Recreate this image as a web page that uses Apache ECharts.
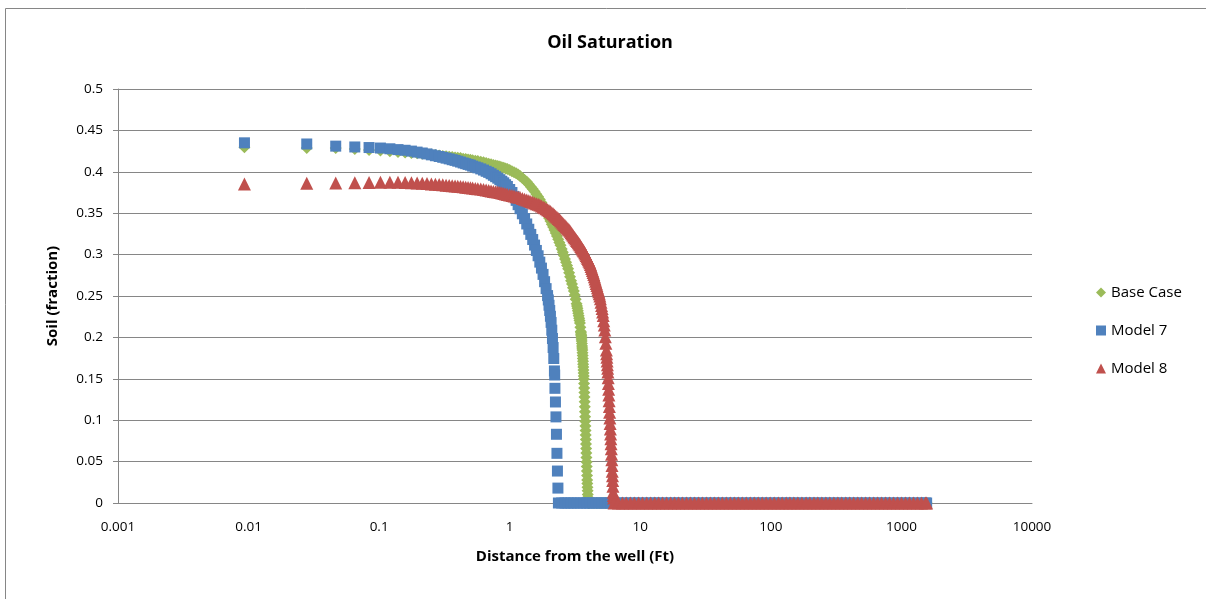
<!DOCTYPE html>
<html>
<head>
<meta charset="utf-8">
<script src="https://cdn.jsdelivr.net/npm/echarts@6/dist/echarts.min.js"></script>
<style>
html,body{margin:0;padding:0;background:#fff;}
#chart{width:1206px;height:599px;}
</style>
</head>
<body>
<div id="chart"></div>
<script>
// ---- data ----
const seriesNames = ['Base Case', 'Model 7', 'Model 8'];
const xTickLabels = ['0.001', '0.01', '0.1', '1', '10', '100', '1000', '10000'];
const yTickLabels = ['0', '0.05', '0.1', '0.15', '0.2', '0.25', '0.3', '0.35', '0.4', '0.45', '0.5'];

// Base Case: distance (ft) and oil saturation
const baseDist = [0.0093,0.0279,0.0465,0.0651,0.0837,
 0.1023,0.1209,0.1395,0.1581,0.1767,0.1953,0.2139,0.2325,0.2511,0.2697,0.2883,0.3069,0.3255,0.3441,0.3627,0.3813,0.3999,
 0.42,0.44,0.46,0.48,0.5,0.52,0.545,0.57,0.6,0.63,0.66,0.69,0.72,0.75,0.78,0.81,0.84,0.87,0.9,0.93,0.96,1.0,
 1.04,1.08,1.12,1.16,1.2,1.25,1.3,1.35,1.4,1.45,1.5,1.55,1.6,1.65,1.7,1.75,1.8,1.85,1.9,1.95,2.0,
 2.05,2.1,2.15,2.2,2.25,2.3,2.35,2.4,2.45,2.5,2.55,2.6,2.65,2.7,2.75,2.8,2.85,2.9,2.95,3.0,
 3.05,3.1,3.15,3.2,3.25,3.275,3.3,3.325,3.35,3.375,3.4,3.425,3.45,3.475,
 3.5,3.51,3.52,3.53,3.54,3.55,3.56,3.57,3.58,3.59,3.6,3.61,3.62,3.63,3.64,3.65,3.66,3.67,3.68,3.69,
 3.7,3.71,3.72,3.73,3.74,3.75,3.76,3.77,3.78,3.79,3.8,3.81,3.82,3.83,3.84,3.85,3.86,3.87,3.88,3.89,
 3.9,3.91,3.92,3.93,3.94,3.95,3.96,3.97,3.98,4.0];
const baseSat = [0.4296,0.4287,0.4287,0.4275,0.4263,
 0.4257,0.4248,0.4240,0.4234,0.4228,0.4223,0.4219,0.4213,0.4208,0.4203,0.4198,0.4192,0.4187,0.4182,0.4179,0.4174,0.4170,
 0.4166,0.4159,0.4155,0.4150,0.4145,0.4140,0.4134,0.4129,0.4122,0.4114,0.4106,0.4098,0.4091,0.4083,0.4077,0.4070,0.4064,0.4056,0.4048,0.4040,0.4033,0.4023,
 0.4008,0.3994,0.3981,0.3966,0.3950,0.3924,0.3901,0.3879,0.3849,0.3820,0.3793,0.3761,0.3728,0.3698,0.3664,0.3628,0.3594,0.3560,0.3526,0.3480,0.3442,
 0.3405,0.3367,0.3333,0.3298,0.3262,0.3225,0.3185,0.3146,0.3112,0.3069,0.3028,0.2989,0.2948,0.2907,0.2867,0.2829,0.2780,0.2732,0.2685,0.2645,
 0.2600,0.2560,0.2512,0.2462,0.2405,0.2378,0.2351,0.2322,0.2292,0.2262,0.2232,0.2203,0.2174,0.2123,
 0.2072,0.2056,0.2039,0.2022,0.2005,0.1982,0.1958,0.1927,0.1895,0.1872,0.1848,0.1814,0.1780,0.1746,0.1711,0.1677,0.1643,0.1607,0.1570,0.1534,
 0.1498,0.1444,0.1389,0.1335,0.1280,0.1222,0.1163,0.1103,0.1042,0.0986,0.0930,0.0876,0.0821,0.0767,0.0713,0.0659,0.0604,0.0550,0.0495,0.0441,
 0.0386,0.0332,0.0278,0.0235,0.0191,0.0148,0.0104,0.0067,0.0030,0];

// Model 7
const model7Dist = [0.0093,0.0279,0.0465,0.0651,0.0837,
 0.1023,0.1209,0.1395,0.1581,0.1767,0.1953,0.2139,0.2325,0.2511,0.2697,0.2883,0.3069,0.3255,0.3441,0.3627,0.3813,0.3999,
 0.42,0.44,0.46,0.48,0.5,0.52,0.545,0.57,0.6,0.63,0.66,0.69,0.72,0.75,0.78,0.81,0.84,0.87,0.9,0.93,0.96,1.0,
 1.04,1.08,1.12,1.16,1.2,1.25,1.3,1.35,1.4,1.45,1.5,1.55,1.6,1.65,1.7,1.75,1.8,1.85,1.9,1.95,
 1.975,2.0,2.025,2.05,2.075,2.1,2.125,2.15,2.175,2.2,2.21,
 2.22,2.24,2.26,2.28,2.30,2.32,2.34];
const model7Sat = [0.4350,0.4336,0.4310,0.4300,0.4293,
 0.4287,0.4278,0.4268,0.4260,0.4250,0.4238,0.4227,0.4216,0.4205,0.4194,0.4185,0.4175,0.4165,0.4156,0.4146,0.4138,0.4128,
 0.4118,0.4107,0.4098,0.4089,0.4081,0.4069,0.4058,0.4048,0.4035,0.4021,0.4006,0.3993,0.3976,0.3958,0.3941,0.3923,0.3905,0.3886,0.3867,0.3844,0.3823,0.3786,
 0.3750,0.3700,0.3655,0.3603,0.3554,0.3493,0.3435,0.3370,0.3306,0.3244,0.3182,0.3115,0.3050,0.2986,0.2909,0.2837,0.2761,0.2673,0.2589,0.2505,
 0.2452,0.2388,0.2325,0.2255,0.2181,0.2087,0.1987,0.1878,0.1745,0.1595,0.1546,
 0.1385,0.1220,0.1040,0.0830,0.0600,0.0386,0.0180];

// Model 8
const model8Dist = [0.0093,0.0279,0.0465,0.0651,0.0837,
 0.1023,0.1209,0.1395,0.1581,0.1767,0.1953,0.2139,0.2325,0.2511,0.2697,0.2883,0.3069,0.3255,0.3441,0.3627,0.3813,0.3999,
 0.42,0.44,0.46,0.48,0.5,0.52,0.545,0.57,0.6,0.63,0.66,0.69,0.72,0.75,0.78,0.81,0.84,0.87,0.9,0.93,0.96,1.0,
 1.04,1.08,1.12,1.16,1.2,1.25,1.3,1.35,1.4,1.45,1.5,1.55,1.6,1.65,1.7,1.75,1.8,1.85,1.9,1.95,2.0,
 2.05,2.1,2.15,2.2,2.25,2.3,2.35,2.4,2.45,2.5,2.55,2.6,2.65,2.7,2.75,2.8,2.85,2.9,2.95,3.0,
 3.05,3.1,3.15,3.2,3.25,3.3,3.35,3.4,3.45,3.5,3.55,3.6,3.65,3.7,3.75,3.8,3.85,3.9,3.95,4.0,
 4.05,4.1,4.15,4.2,4.25,4.3,4.35,4.4,4.45,4.5,4.55,4.6,4.65,4.7,4.75,4.8,4.85,4.9,4.95,5.0,
 5.05,5.1,5.15,5.2,5.25,5.3,5.35,5.4,5.45,5.5,5.525,5.55,5.575,5.6,5.625,5.65,5.675,5.7,5.725,5.75,
 5.775,5.8,5.825,5.85,5.875,5.9,5.925,5.95,5.975,6.0,6.025,6.05,6.075,6.1,6.125,6.15,6.175,6.2,6.225,6.25];
const model8Sat = [0.3853,0.3861,0.3865,0.3868,0.3871,
 0.3873,0.3873,0.3873,0.3871,0.3868,0.3866,0.3862,0.3859,0.3854,0.3850,0.3848,0.3843,0.3839,0.3836,0.3832,0.3829,0.3825,
 0.3821,0.3818,0.3814,0.3810,0.3807,0.3803,0.3799,0.3796,0.3791,0.3785,0.3779,0.3774,0.3768,0.3763,0.3759,0.3755,0.3750,0.3744,0.3738,0.3733,0.3727,0.3721,
 0.3714,0.3708,0.3700,0.3696,0.3690,0.3679,0.3668,0.3658,0.3650,0.3640,0.3632,0.3623,0.3615,0.3607,0.3599,0.3588,0.3576,0.3565,0.3554,0.3543,0.3533,
 0.3521,0.3506,0.3492,0.3478,0.3464,0.3450,0.3436,0.3423,0.3409,0.3394,0.3379,0.3365,0.3350,0.3337,0.3322,0.3309,0.3296,0.3281,0.3264,0.3250,
 0.3233,0.3217,0.3202,0.3187,0.3171,0.3158,0.3142,0.3129,0.3116,0.3099,0.3083,0.3068,0.3054,0.3039,0.3023,0.3007,0.2989,0.2971,0.2954,0.2937,
 0.2920,0.2903,0.2879,0.2855,0.2831,0.2808,0.2785,0.2761,0.2733,0.2705,0.2678,0.2650,0.2626,0.2601,0.2576,0.2551,0.2526,0.2500,0.2466,0.2425,
 0.2384,0.2349,0.2308,0.2263,0.2201,0.2151,0.2089,0.2008,0.1929,0.1848,0.1804,0.1760,0.1715,0.1670,0.1626,0.1582,0.1512,0.1443,0.1373,0.1304,
 0.1234,0.1165,0.1096,0.1027,0.0960,0.0894,0.0834,0.0775,0.0715,0.0655,0.0588,0.0522,0.0453,0.0384,0.0328,0.0273,0.0201,0.0130,0.0090,0.0060];

// Beyond each flood front the saturation is 0 out to the last cell (~1560 ft)
const zeroDist = [2.36,2.5,2.65,2.8,2.95,3.1,3.3,3.5,3.7,3.9,4.1,4.35,4.6,4.85,5.1,5.4,5.7,6.0,
 6.3,6.8,7.3,7.8,8.4,9,9.7,10.4,11.2,12,12.9,13.8,14.8,15.9,17.1,18.3,19.6,21,22.6,24.2,26,27.9,29.9,
 32.1,34.4,36.9,39.6,42.5,45.6,48.9,52.5,56.3,60.4,64.8,69.5,74.6,80,85.8,92,98.7,106,114,122,131,140,
 150,161,173,186,199,214,229,246,264,283,304,326,349,375,402,431,463,496,532,571,613,657,705,756,811,
 870,934,1002,1075,1153,1237,1327,1424,1527,1560];
const zeroSat = 0;

// ---- build series ----
function buildPoints(dist, sat) {
  const pts = dist.map((d, i) => [d, sat[i]]);
  const last = dist[dist.length - 1];
  zeroDist.forEach(d => { if (d > last) pts.push([d, zeroSat]); });
  return pts;
}

const FONT = '"Open Sans", "Liberation Sans", sans-serif';
const GRAY = '#868686';

const chart = echarts.init(document.getElementById('chart'), null, {renderer: 'canvas'});
const option = {
  backgroundColor: '#ffffff',
  animation: false,
  textStyle: {fontFamily: FONT},
  title: {
    text: 'Oil Saturation',
    left: 605, top: 29, textAlign: 'center',
    textStyle: {fontFamily: FONT, fontWeight: 'bold', fontSize: 18, color: '#000'}
  },
  legend: {
    orient: 'vertical',
    left: 1091, top: 280,
    itemWidth: 10, itemHeight: 10, itemGap: 23,
    textStyle: {fontFamily: FONT, fontSize: 15, color: '#000'},
    data: seriesNames
  },
  grid: {left: 118, top: 89, right: 174, bottom: 96, containLabel: false},
  xAxis: {
    type: 'log', logBase: 10, min: 0.001, max: 10000, interval: 1,
    name: 'Distance from the well (Ft)', nameLocation: 'middle', nameGap: 46,
    nameTextStyle: {fontFamily: FONT, fontWeight: 'bold', fontSize: 15, color: '#000'},
    axisLine: {show: true, lineStyle: {color: GRAY, width: 1}},
    axisTick: {show: false},
    splitLine: {show: false},
    minorTick: {show: false}, minorSplitLine: {show: false},
    axisLabel: {
      margin: 17, fontFamily: FONT, fontSize: 13.5, color: '#000',
      formatter: v => xTickLabels[Math.round(Math.log10(v)) + 3]
    }
  },
  yAxis: {
    type: 'value', min: 0, max: 0.5, interval: 0.05,
    name: 'Soil (fraction)', nameLocation: 'middle', nameGap: 58, nameRotate: 90,
    nameTextStyle: {fontFamily: FONT, fontWeight: 'bold', fontSize: 15, color: '#000'},
    axisLine: {show: true, lineStyle: {color: GRAY, width: 1}},
    axisTick: {show: true, inside: false, length: 5, lineStyle: {color: GRAY}},
    splitLine: {show: true, lineStyle: {color: GRAY, width: 1}},
    axisLabel: {
      margin: 15, fontFamily: FONT, fontSize: 13.5, color: '#000',
      formatter: v => yTickLabels[Math.round(v / 0.05)]
    }
  },
  series: [
    {name: seriesNames[0], type: 'scatter', symbol: 'diamond', symbolSize: 12,
     itemStyle: {color: '#9BBB59', opacity: 1}, data: buildPoints(baseDist, baseSat)},
    {name: seriesNames[1], type: 'scatter', symbol: 'rect', symbolSize: 11,
     itemStyle: {color: '#4F81BD', opacity: 1}, data: buildPoints(model7Dist, model7Sat)},
    {name: seriesNames[2], type: 'scatter', symbol: 'triangle', symbolSize: [13, 13],
     itemStyle: {color: '#C0504D', opacity: 1}, data: buildPoints(model8Dist, model8Sat)}
  ],
  graphic: [{
    type: 'rect', silent: true, z: -10,
    shape: {x: 5.5, y: 8.5, width: 1400, height: 800},
    style: {fill: null, stroke: GRAY, lineWidth: 1}
  }]
};
chart.setOption(option);
</script>
</body>
</html>
